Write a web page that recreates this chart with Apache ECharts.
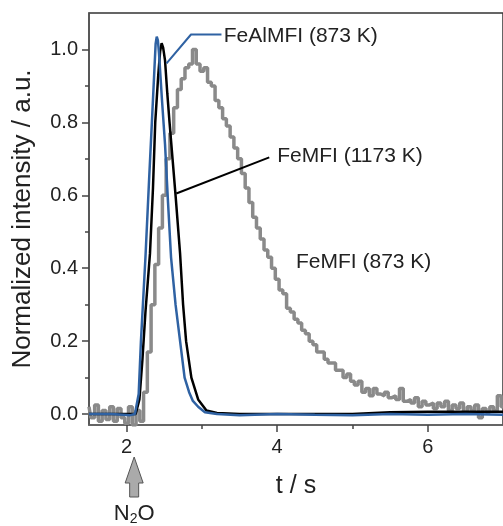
<!DOCTYPE html>
<html>
<head>
<meta charset="utf-8">
<script src="https://cdn.jsdelivr.net/npm/echarts@6/dist/echarts.min.js"></script>
<style>
html,body{margin:0;padding:0;background:#fff;}
#c{width:503px;height:526px;}
</style>
</head>
<body>
<div id="c"></div>
<script>
// ---- data ----
const xMajorTicks = [2, 4, 6];
const xMinorTicks = [3, 5];
const yMajorTicks = [0, 0.2, 0.4, 0.6, 0.8, 1.0];
const yMinorTicks = [0.1, 0.3, 0.5, 0.7, 0.9];

// FeAlMFI (873 K) - blue
const blueT = [1.50,1.80,2.05,2.11,2.16,2.19,2.25,2.30,2.34,2.37,2.385,2.40,2.415,2.43,2.47,2.51,2.55,2.59,2.65,2.71,2.77,2.83,2.88,2.95,3.04,3.20,3.50,4.00,4.50,5.00,5.50,6.00,6.50,7.00];
const blueY = [0.00,0.00,-0.003,0.00,0.055,0.20,0.43,0.65,0.82,0.95,1.015,1.035,1.025,0.99,0.86,0.74,0.58,0.43,0.30,0.20,0.10,0.06,0.036,0.02,0.005,0.00,-0.003,0.00,-0.002,-0.003,0.00,-0.002,0.00,-0.002];

// FeMFI (1173 K) - black
const blackT = [1.50,2.00,2.12,2.17,2.21,2.25,2.31,2.35,2.38,2.42,2.445,2.465,2.485,2.51,2.54,2.57,2.61,2.65,2.71,2.75,2.79,2.86,2.95,3.06,3.20,3.50,4.00,5.00,5.50,6.00,7.00];
const blackY = [0.00,0.00,0.00,0.04,0.15,0.28,0.44,0.62,0.80,0.93,0.995,1.017,1.005,0.97,0.88,0.80,0.70,0.60,0.44,0.30,0.20,0.10,0.04,0.01,0.003,0.00,0.00,0.00,0.005,0.006,0.006];

// FeMFI (873 K) - gray (noisy)
const grayT = [1.50,1.55,1.60,1.65,1.70,1.75,1.80,1.85,1.90,1.95,2.00,2.05,2.10,2.15,2.20,2.25,2.30,2.35,2.40,2.45,2.50,2.55,2.60,2.65,2.70,2.75,2.80,2.85,2.90,2.95,3.00,3.05,3.10,3.15,3.20,3.25,3.30,3.35,3.40,3.45,3.50,3.55,3.60,3.65,3.70,3.75,3.80,3.85,3.90,3.95,4.00,4.05,4.10,4.15,4.20,4.25,4.30,4.35,4.40,4.45,4.50,4.55,4.60,4.65,4.70,4.75,4.80,4.85,4.90,4.95,5.00,5.05,5.10,5.15,5.20,5.25,5.30,5.35,5.40,5.45,5.50,5.55,5.60,5.65,5.70,5.75,5.80,5.85,5.90,5.95,6.00,6.05,6.10,6.15,6.20,6.25,6.30,6.35,6.40,6.45,6.50,6.55,6.60,6.65,6.70,6.75,6.80,6.85,6.90,6.95,7.00];
const grayY = [0.02,-0.01,0.025,-0.02,0.01,-0.015,0.02,-0.02,0.015,-0.01,-0.025,0.02,-0.03,0.01,-0.02,0.06,0.17,0.30,0.41,0.51,0.60,0.70,0.77,0.84,0.89,0.92,0.95,0.96,1.00,0.96,0.94,0.95,0.91,0.90,0.86,0.84,0.81,0.79,0.76,0.73,0.70,0.66,0.62,0.58,0.54,0.51,0.48,0.45,0.43,0.40,0.37,0.34,0.33,0.29,0.28,0.26,0.25,0.23,0.22,0.20,0.19,0.17,0.17,0.15,0.14,0.14,0.12,0.12,0.10,0.11,0.09,0.08,0.09,0.06,0.07,0.05,0.07,0.055,0.05,0.06,0.045,0.05,0.04,0.07,0.035,0.04,0.03,0.045,0.02,0.035,0.025,0.03,0.015,0.03,0.02,0.035,0.01,0.025,0.015,0.03,0.005,0.02,0.01,0.025,-0.01,0.015,0.005,0.02,0.01,0.05,0.02];

// leader lines (data coords)
const blueLeaderT = [2.53, 2.855, 3.26];
const blueLeaderY = [0.962, 1.041, 1.041];
const blackLeaderT = [2.66, 3.895];
const blackLeaderY = [0.605, 0.704];

const labels = [
  {text: 'FeAlMFI (873 K)', t: 3.29, y: 1.035},
  {text: 'FeMFI (1173 K)', t: 4.0, y: 0.707},
  {text: 'FeMFI (873 K)', t: 4.25, y: 0.416}
];
const n2oT = 2.1;

const zip = (a, b) => a.map((v, i) => [v, b[i]]);
const FONT = '"Liberation Sans", Arial, sans-serif';
const BLUE = '#2f62a3';

const chart = echarts.init(document.getElementById('c'), null, {renderer: 'canvas'});

const baseX = {type: 'value', min: 1.5, max: 7, position: 'bottom', splitLine: {show: false}};
const baseY = {type: 'value', min: -0.03, max: 1.1, position: 'left', splitLine: {show: false}};

const option = {
  animation: false,
  backgroundColor: '#fff',
  textStyle: {fontFamily: FONT},
  grid: {left: 89, top: 13, right: -5, bottom: 101, show: true, borderColor: '#333', borderWidth: 1.5, backgroundColor: 'transparent'},
  xAxis: [
    Object.assign({}, baseX, {
      axisLine: {onZero: false, lineStyle: {color: '#666', width: 1.5}},
      axisTick: {customValues: xMajorTicks, length: 7, lineStyle: {color: '#444', width: 1.5}},
      axisLabel: {customValues: xMajorTicks, fontSize: 20, color: '#222', margin: 12, fontFamily: FONT},
      name: 't / s', nameLocation: 'middle', nameGap: 49,
      nameTextStyle: {fontSize: 25, color: '#222', fontFamily: FONT}
    }),
    Object.assign({}, baseX, {
      axisLine: {show: false, onZero: false},
      axisTick: {customValues: xMinorTicks, length: 4, lineStyle: {color: '#444', width: 1.5}},
      axisLabel: {show: false}
    })
  ],
  yAxis: [
    Object.assign({}, baseY, {
      axisLine: {show: true, onZero: false, lineStyle: {color: '#555', width: 1.5}},
      axisTick: {show: true, customValues: yMajorTicks, length: 7, lineStyle: {color: '#444', width: 1.5}},
      axisLabel: {customValues: yMajorTicks, fontSize: 20, color: '#222', margin: 11, fontFamily: FONT,
        formatter: v => v.toFixed(1)},
      name: 'Normalized intensity / a.u.', nameLocation: 'middle', nameGap: 53,
      nameTextStyle: {fontSize: 26, color: '#222', fontFamily: FONT}
    }),
    Object.assign({}, baseY, {
      axisLine: {show: false, onZero: false},
      axisTick: {show: true, customValues: yMinorTicks, length: 4, lineStyle: {color: '#444', width: 1.5}},
      axisLabel: {show: false}
    })
  ],
  series: [
    {type: 'line', name: 'FeMFI (873 K)', data: zip(grayT, grayY), step: 'middle', showSymbol: false,
      lineStyle: {color: '#8a8a8a', width: 3.5}, z: 2},
    {type: 'line', name: 'FeMFI (1173 K)', data: zip(blackT, blackY), showSymbol: false,
      lineStyle: {color: '#000', width: 2.5}, z: 3},
    {type: 'line', name: 'FeAlMFI (873 K)', data: zip(blueT, blueY), showSymbol: false,
      lineStyle: {color: BLUE, width: 2.5}, z: 4},
    {type: 'line', data: zip(blueLeaderT, blueLeaderY), showSymbol: false, silent: true,
      lineStyle: {color: BLUE, width: 2}, z: 5},
    {type: 'line', data: zip(blackLeaderT, blackLeaderY), showSymbol: false, silent: true,
      lineStyle: {color: '#000', width: 2}, z: 5}
  ]
};
chart.setOption(option);

const px = (t, y) => chart.convertToPixel({gridIndex: 0}, [t, y]);
const graphics = labels.map(l => {
  const p = px(l.t, l.y);
  return {type: 'text', x: p[0], y: p[1], z: 10,
    style: {text: l.text, fill: '#222', font: '21px ' + FONT, textAlign: 'left', textVerticalAlign: 'middle'}};
});
const cx = px(n2oT, 0)[0];
graphics.push({
  type: 'polygon', z: 10,
  shape: {points: [[cx, 457], [cx + 9, 483], [cx + 4.5, 483], [cx + 4.5, 497], [cx - 4.5, 497], [cx - 4.5, 483], [cx - 9, 483]]},
  style: {fill: '#aaa', stroke: '#555', lineWidth: 1}
});
graphics.push({
  type: 'text', x: cx, y: 514, z: 10,
  style: {
    text: '{n|N}{s|2}{n|O}', textAlign: 'center', textVerticalAlign: 'middle',
    rich: {
      n: {fontSize: 22, fontFamily: FONT, fill: '#222', lineHeight: 24, verticalAlign: 'middle'},
      s: {fontSize: 14, fontFamily: FONT, fill: '#222', lineHeight: 14, padding: [12, 0, 0, 0], verticalAlign: 'bottom'}
    }
  }
});
chart.setOption({graphic: graphics});
</script>
</body>
</html>
